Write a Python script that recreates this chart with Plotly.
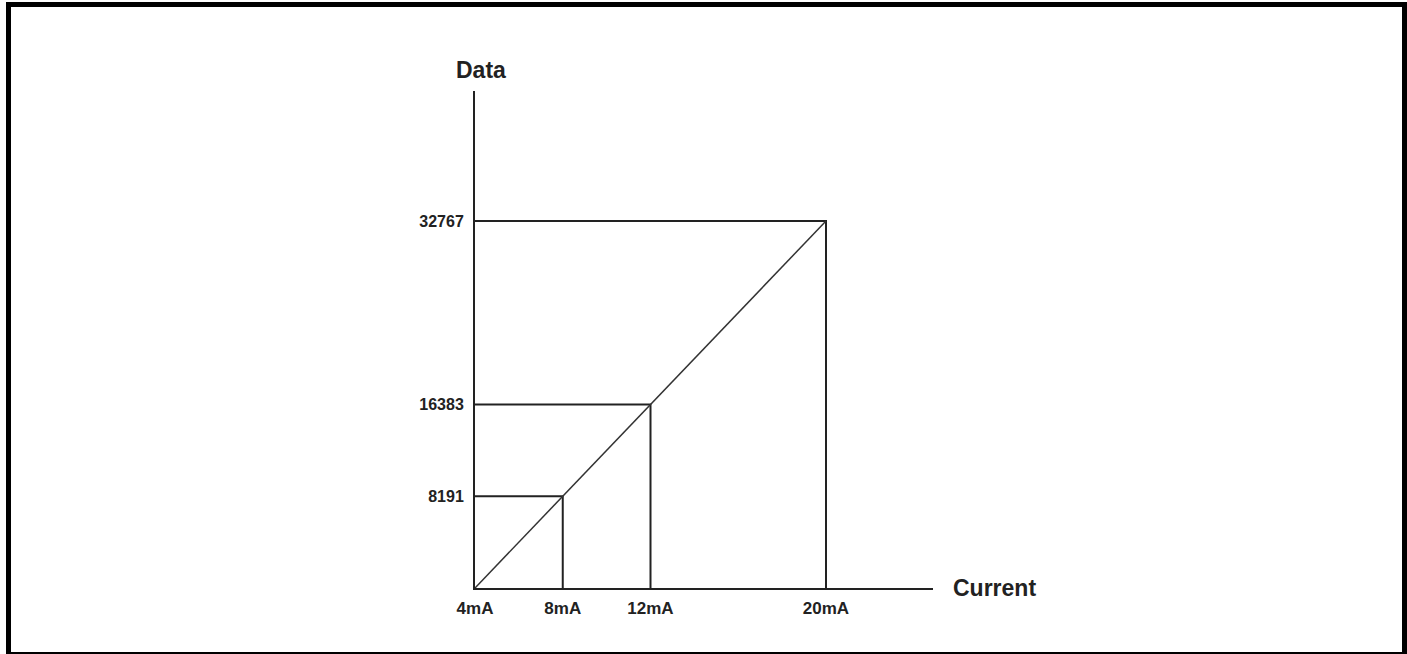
import plotly.graph_objects as go

# Analog input scaling: current (mA) to converted data value
currents = [4, 8, 12, 20]
data_vals = [0, 8191, 16383, 32767]
x_tick_text = ["4mA", "8mA", "12mA", "20mA"]
y_tick_vals = [8191, 16383, 32767]
y_tick_text = ["8191", "16383", "32767"]

W, H = 1407, 654
L, R, T, B = 475, 474, 91, 66
plot_w = W - L - R
plot_h = H - T - B

x_max = 4 + (W - R - L) * (currents[-1] - currents[0]) / (826 - 475)
y_max = (H - B - T) * data_vals[-1] / ((H - B) - 221)

ink = "#222222"
font_family = "Liberation Sans, Arial, Helvetica, sans-serif"


def px_x(p):
    return (p - L) / plot_w


def px_y(q):
    return ((H - B) - q) / plot_h


fig = go.Figure()

# Reference lines from each axis to the scaling point
for c, d in zip(currents[1:], data_vals[1:]):
    fig.add_trace(go.Scatter(
        x=[currents[0], c, c], y=[d, d, 0],
        mode="lines", line=dict(color=ink, width=2),
        hoverinfo="skip", showlegend=False,
    ))

# Linear scaling line
fig.add_trace(go.Scatter(
    x=currents, y=data_vals, mode="lines",
    line=dict(color="#333333", width=1.5),
    showlegend=False,
))

fig.update_xaxes(
    range=[currents[0], x_max],
    tickvals=currents, ticktext=x_tick_text,
    ticks="", showgrid=False, zeroline=False,
    showline=True, linecolor=ink, linewidth=2,
    tickfont=dict(family=font_family, size=17, color=ink, weight="bold"),
    ticklabelstandoff=4,
)
fig.update_yaxes(
    range=[0, y_max],
    tickvals=y_tick_vals, ticktext=y_tick_text,
    ticks="", showgrid=False, zeroline=False,
    showline=True, linecolor=ink, linewidth=2,
    tickfont=dict(family=font_family, size=16, color=ink, weight="bold"),
    ticklabelstandoff=6,
)

fig.add_annotation(
    text="Data", x=px_x(481), y=px_y(70), xref="paper", yref="paper",
    xanchor="center", yanchor="middle", showarrow=False,
    font=dict(family=font_family, size=23, color=ink, weight="bold"),
)
fig.add_annotation(
    text="Current", x=px_x(951), y=px_y(588), xref="paper", yref="paper",
    xanchor="left", yanchor="middle", showarrow=False,
    font=dict(family=font_family, size=23, color=ink, weight="bold"),
)

# Outer frame
fig.add_shape(
    type="rect", xref="paper", yref="paper",
    x0=px_x(8.5), x1=px_x(1404.5), y0=px_y(654.5), y1=px_y(4.5),
    line=dict(color="black", width=5), fillcolor="rgba(0,0,0,0)",
    layer="above",
)

fig.update_layout(
    width=W, height=H,
    margin=dict(l=L, r=R, t=T, b=B, pad=0),
    paper_bgcolor="white", plot_bgcolor="white",
    showlegend=False,
)

fig.write_html("out.html", config={"displayModeBar": False})
